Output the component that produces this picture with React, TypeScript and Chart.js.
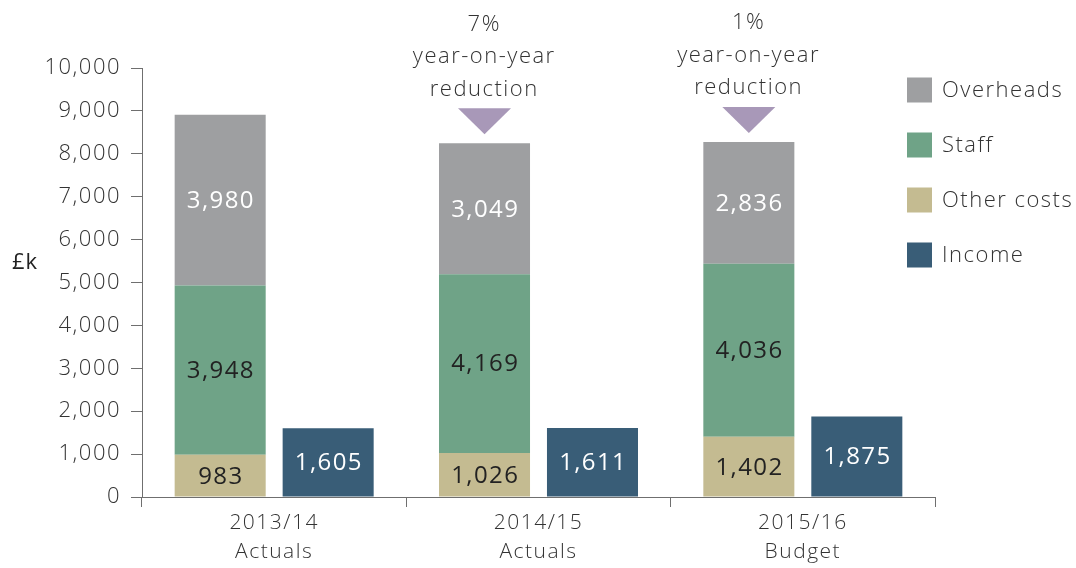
import React, { useEffect, useRef } from "react";
import { Chart, registerables } from "chart.js";

Chart.register(...registerables);

const categories: string[][] = [
  ["2013/14", "Actuals"],
  ["2014/15", "Actuals"],
  ["2015/16", "Budget"],
];
const otherCosts = [983, 1026, 1402];
const staff = [3948, 4169, 4036];
const overheads = [3980, 3049, 2836];
const income = [1605, 1611, 1875];
const yMin = 0;
const yMax = 10000;
const yStep = 1000;
const yUnit = "£k";
const annotations: (string[] | null)[] = [
  null,
  ["7%", "year-on-year", "reduction"],
  ["1%", "year-on-year", "reduction"],
];
const legendOrder = ["Overheads", "Staff", "Other costs", "Income"];

const FONT = "'Open Sans', 'Noto Sans', sans-serif";
const COLORS: Record<string, string> = {
  "Other costs": "#c4bb91",
  Staff: "#6fa387",
  Overheads: "#9e9fa1",
  Income: "#395d77",
};
const LABEL_COLORS: Record<string, string> = {
  "Other costs": "#222222",
  Staff: "#222222",
  Overheads: "#ffffff",
  Income: "#ffffff",
};

const fmt = (v: number) => v.toLocaleString("en-GB");

const setSpacing = (ctx: any, px: number) => {
  try {
    ctx.letterSpacing = `${px}px`;
  } catch (e) {
    /* ignore */
  }
};

const overlayPlugin = {
  id: "overlay",
  beforeDraw(chart: any) {
    setSpacing(chart.ctx, 1.5);
  },
  afterDatasetsDraw(chart: any) {
    const ctx = chart.ctx as CanvasRenderingContext2D;
    ctx.save();
    setSpacing(ctx, 1.4);
    // data labels
    chart.data.datasets.forEach((ds: any, di: number) => {
      const meta = chart.getDatasetMeta(di);
      meta.data.forEach((el: any, i: number) => {
        const v = ds.data[i];
        ctx.font = `400 24px ${FONT}`;
        ctx.fillStyle = LABEL_COLORS[ds.label];
        ctx.textAlign = "center";
        ctx.textBaseline = "middle";
        ctx.fillText(fmt(v), el.x + 0.7, (el.y + el.base) / 2 + 1);
      });
    });
    // annotations above top cost bar
    const topIdx = chart.data.datasets.findIndex((d: any) => d.label === "Overheads");
    const topMeta = chart.getDatasetMeta(topIdx);
    annotations.forEach((lines, i) => {
      if (!lines) return;
      const el: any = topMeta.data[i];
      const x = el.x;
      const top = el.y;
      ctx.fillStyle = "#a898b8";
      ctx.beginPath();
      ctx.moveTo(x - 26.5, top - 35);
      ctx.lineTo(x + 26.5, top - 35);
      ctx.lineTo(x, top - 9);
      ctx.closePath();
      ctx.fill();
      ctx.font = `300 22px ${FONT}`;
      ctx.fillStyle = "#333333";
      ctx.textAlign = "center";
      ctx.textBaseline = "middle";
      setSpacing(ctx, 1.5);
      lines.forEach((t, k) => {
        ctx.fillText(t, x - 1 + 0.75, top - 119 + k * 32.5);
      });
    });
    ctx.restore();
  },
  afterDraw(chart: any) {
    const ctx = chart.ctx as CanvasRenderingContext2D;
    ctx.save();
    setSpacing(ctx, 1);
    // unit label
    ctx.font = `400 22px ${FONT}`;
    ctx.fillStyle = "#222222";
    ctx.textAlign = "left";
    ctx.textBaseline = "middle";
    ctx.fillText(yUnit, 12, 263);
    // legend
    setSpacing(ctx, 1.5);
    const x0 = 907;
    legendOrder.forEach((name, k) => {
      const cy = 90 + k * 55;
      ctx.fillStyle = COLORS[name];
      ctx.fillRect(x0, cy - 12.5, 25, 25);
      ctx.font = `300 22px ${FONT}`;
      ctx.fillStyle = "#333333";
      ctx.textAlign = "left";
      ctx.textBaseline = "middle";
      ctx.fillText(name, x0 + 35, cy + 1);
    });
    ctx.restore();
  },
};

export default function App() {
  const ref = useRef<HTMLCanvasElement | null>(null);
  useEffect(() => {
    if (!ref.current) return;
    const mk = (label: string, data: number[], stack: string) => ({
      label,
      data,
      stack,
      backgroundColor: COLORS[label],
      borderWidth: 0,
      barPercentage: 0.843,
      categoryPercentage: 0.817,
    });
    const chart = new Chart(ref.current, {
      type: "bar",
      data: {
        labels: categories,
        datasets: [
          mk("Other costs", otherCosts, "costs"),
          mk("Staff", staff, "costs"),
          mk("Overheads", overheads, "costs"),
          mk("Income", income, "income"),
        ],
      },
      options: {
        responsive: false,
        animation: false,
        layout: { padding: { left: 0, right: 141, top: 68, bottom: 0 } },
        plugins: {
          legend: { display: false },
          tooltip: { enabled: false },
        },
        scales: {
          x: {
            stacked: true,
            afterFit: (s: any) => {
              s.height = 71;
            },
            grid: {
              offset: true,
              drawOnChartArea: false,
              drawTicks: true,
              tickLength: 10,
              color: "#6f6f6f",
            },
            border: { color: "#6f6f6f", width: 1 },
            ticks: {
              color: "#333333",
              padding: 1,
              font: { family: FONT, size: 21, weight: 300, lineHeight: 1.4 },
            },
          },
          y: {
            stacked: true,
            min: yMin,
            max: yMax,
            afterFit: (s: any) => {
              s.width = 142;
            },
            grid: {
              drawOnChartArea: false,
              drawTicks: true,
              tickLength: 11,
              color: "#6f6f6f",
            },
            border: { color: "#6f6f6f", width: 1 },
            ticks: {
              stepSize: yStep,
              color: "#333333",
              padding: 10,
              font: { family: FONT, size: 22, weight: 300 },
              callback: (v: any) => fmt(Number(v)),
            },
          },
        },
      },
      plugins: [overlayPlugin],
    });
    return () => chart.destroy();
  }, []);
  return (
    <div style={{ position: "absolute", left: 0, top: 0, width: 1076, height: 568, background: "#fff" }}>
      <canvas ref={ref} width={1076} height={568} style={{ display: "block" }} />
    </div>
  );
}
